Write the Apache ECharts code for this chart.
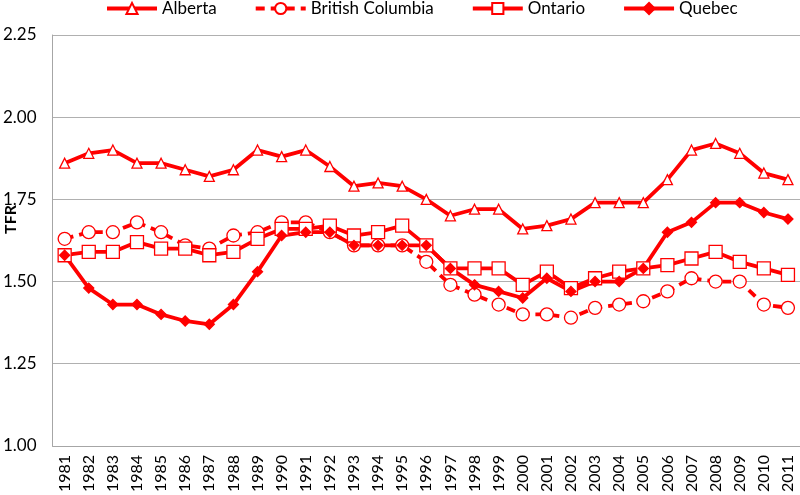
<!DOCTYPE html>
<html>
<head>
<meta charset="utf-8">
<script src="https://cdn.jsdelivr.net/npm/echarts@6/dist/echarts.min.js"></script>
<style>html,body{margin:0;padding:0;background:#fff;}#c{width:800px;height:495px;}</style>
</head>
<body>
<div id="c"></div>
<script>
const years = ['1981','1982','1983','1984','1985','1986','1987','1988','1989','1990','1991','1992','1993','1994','1995','1996','1997','1998','1999','2000','2001','2002','2003','2004','2005','2006','2007','2008','2009','2010','2011'];
const alberta = [1.86,1.89,1.90,1.86,1.86,1.84,1.82,1.84,1.90,1.88,1.90,1.85,1.79,1.80,1.79,1.75,1.70,1.72,1.72,1.66,1.67,1.69,1.74,1.74,1.74,1.81,1.90,1.92,1.89,1.83,1.81];
const britishColumbia = [1.63,1.65,1.65,1.68,1.65,1.61,1.60,1.64,1.65,1.68,1.68,1.65,1.61,1.61,1.61,1.56,1.49,1.46,1.43,1.40,1.40,1.39,1.42,1.43,1.44,1.47,1.51,1.50,1.50,1.43,1.42];
const ontario = [1.58,1.59,1.59,1.62,1.60,1.60,1.58,1.59,1.63,1.66,1.66,1.67,1.64,1.65,1.67,1.61,1.54,1.54,1.54,1.49,1.53,1.48,1.51,1.53,1.54,1.55,1.57,1.59,1.56,1.54,1.52];
const quebec = [1.58,1.48,1.43,1.43,1.40,1.38,1.37,1.43,1.53,1.64,1.65,1.65,1.61,1.61,1.61,1.61,1.54,1.49,1.47,1.45,1.51,1.47,1.50,1.50,1.54,1.65,1.68,1.74,1.74,1.71,1.69];
const yTicks = {min:1.00, max:2.25, interval:0.25};

const RED = '#ff0000';
const FONT = 'Lato';
function mk(name, data, symbol, size, dashed, filled){
  return {
    name: name, type: 'line', data: data,
    symbol: symbol, symbolSize: size, showAllSymbol: true,
    lineStyle: {color: RED, width: 3.8, type: dashed ? [9,6] : 'solid'},
    itemStyle: {color: filled ? RED : '#ffffff', borderColor: RED, borderWidth: 1.3},
    emphasis: {disabled: true},
    animation: false
  };
}
const chart = echarts.init(document.getElementById('c'), null, {renderer:'canvas'});
chart.setOption({
  backgroundColor: '#fff',
  animation: false,
  legend: {
    top: 0, left: 105, padding: 0,
    itemWidth: 50, itemHeight: 14, itemGap: 37,
    lineStyle: {width: 4},
    textStyle: {fontFamily: FONT, fontSize: 17, color: '#000'},
    data: ['Alberta','British Columbia','Ontario','Quebec']
  },
  grid: {left: 49, right: 0, top: 35, bottom: 49},
  xAxis: {
    type: 'category', data: years, boundaryGap: true,
    axisLine: {lineStyle: {color: '#a6a6a6', width: 1}},
    axisTick: {show: false},
    axisLabel: {rotate: 90, interval: 0, margin: 9, fontFamily: FONT, fontSize: 16, color: '#000'}
  },
  yAxis: {
    type: 'value', min: yTicks.min, max: yTicks.max, interval: yTicks.interval,
    axisLine: {show: true, lineStyle: {color: '#a6a6a6', width: 1}},
    axisTick: {show: false},
    splitLine: {lineStyle: {color: '#b0b0b0', width: 1.2}},
    axisLabel: {margin: 16, fontFamily: FONT, fontSize: 17, color: '#000', formatter: v => v.toFixed(2)}
  },
  graphic: [{
    type: 'text', left: 3, top: 205, rotation: Math.PI/2,
    style: {text: 'TFR', font: 'bold 16px ' + FONT, fill: '#000'}
  }],
  series: [
    mk('Alberta', alberta, 'triangle', 10, false, false),
    mk('British Columbia', britishColumbia, 'circle', 13, true, false),
    mk('Ontario', ontario, 'rect', 13, false, false),
    mk('Quebec', quebec, 'diamond', 10, false, true)
  ]
});
</script>
</body>
</html>
